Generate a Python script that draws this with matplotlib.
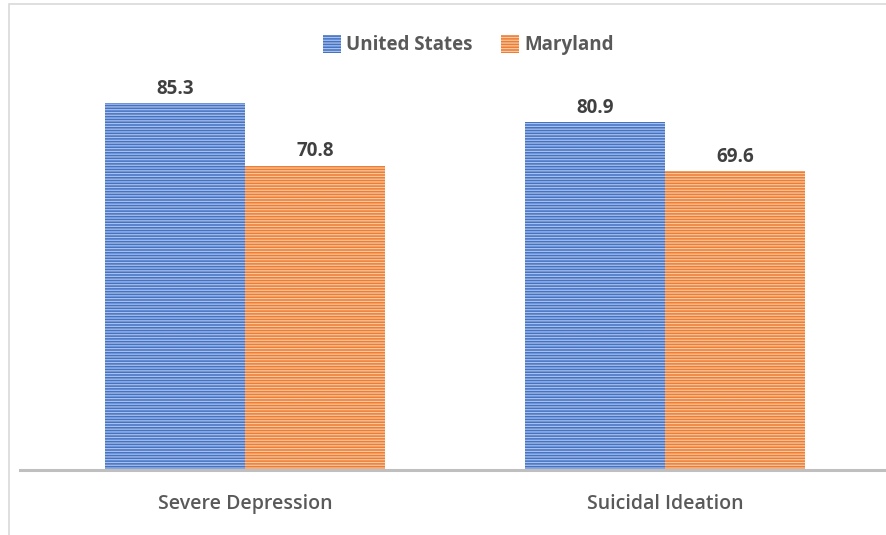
import matplotlib.pyplot as plt
import matplotlib.patches as mpatches
import numpy as np

categories = ["Severe Depression", "Suicidal Ideation"]
series = ["United States", "Maryland"]
us_values = [85.3, 80.9]
md_values = [70.8, 69.6]
colors = ["#4472C4", "#ED7D31"]

plt.rcParams['font.family'] = ['Open Sans', 'DejaVu Sans']
plt.rcParams['hatch.linewidth'] = 0.9

W, H = 886, 535
fig = plt.figure(figsize=(W / 100, H / 100), dpi=100)

# chart frame (light border, cut off at right/bottom)
fig.patches.append(mpatches.Rectangle((9 / W, -0.05), 1.2, (H - 4) / H + 0.05,
                                      transform=fig.transFigure, fill=False,
                                      edgecolor="#D9D9D9", linewidth=1.2))

ax = fig.add_axes([20 / W, 65 / H, 866 / W, 430 / H])
x = np.arange(len(categories))
w = 1 / 3
b1 = ax.bar(x - w / 2, us_values, w, facecolor=colors[0], edgecolor="#A9C0EA",
            hatch="------", linewidth=0, label=series[0])
b2 = ax.bar(x + w / 2, md_values, w, facecolor=colors[1], edgecolor="#F8C7A4",
            hatch="------", linewidth=0, label=series[1])

for bars in (b1, b2):
    for r in bars:
        ax.annotate(f"{r.get_height():.1f}", (r.get_x() + r.get_width() / 2, r.get_height()),
                    xytext=(0, 3), textcoords="offset points", ha="center", va="bottom",
                    fontsize=13.5, fontweight="bold", color="#404040")

ax.set_xlim(-225 / 420, 1 + 221 / 420)
ax.set_ylim(0, 100)
for s in ax.spines.values():
    s.set_visible(False)
ax.axhline(0, color="#BFBFBF", linewidth=2.2, zorder=3, clip_on=False)
ax.set_yticks([])
ax.set_xticks(x)
ax.set_xticklabels(categories, fontsize=14, color="#595959", fontweight="semibold")
ax.tick_params(axis="x", length=0, pad=17)

leg = fig.legend(handles=[b1, b2], labels=series, loc="center", bbox_to_anchor=(468 / W, 1 - 45 / H),
                 ncol=2, frameon=False, fontsize=13.5, handlelength=1.0, handleheight=1.1,
                 columnspacing=1.5, handletextpad=0.25)
for t in leg.get_texts():
    t.set_color("#595959")
    t.set_fontweight("bold")

fig.savefig("out.png", dpi=100)
